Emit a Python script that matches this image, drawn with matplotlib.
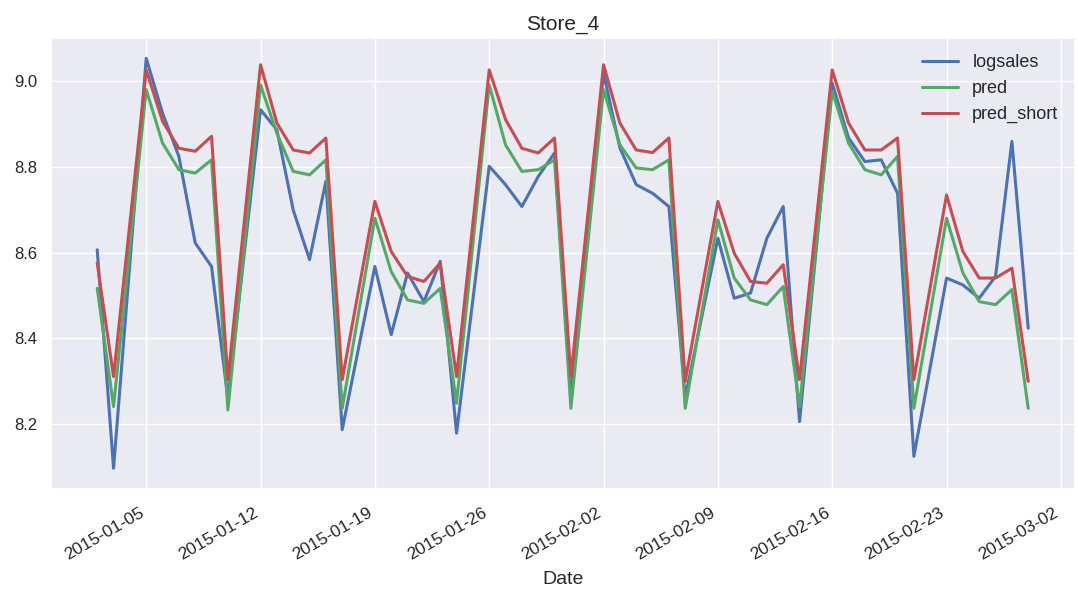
import matplotlib
matplotlib.use('Agg')
import matplotlib.pyplot as plt
import matplotlib.dates as mdates
import pandas as pd
import seaborn as sns

sns.set_theme(style='darkgrid')
plt.rcParams['font.family'] = ['Liberation Sans', 'DejaVu Sans']

# store 4, Jan 2 - Feb 28 2015, closed on Sundays
dates = pd.bdate_range('2015-01-02', '2015-02-28', freq='C', weekmask='Mon Tue Wed Thu Fri Sat')

logsales = [8.607, 8.097,
            9.054, 8.926, 8.825, 8.623, 8.568, 8.260,
            8.934, 8.887, 8.700, 8.584, 8.767, 8.187,
            8.568, 8.409, 8.553, 8.486, 8.580, 8.179,
            8.802, 8.759, 8.708, 8.778, 8.833, 8.260,
            9.019, 8.845, 8.759, 8.739, 8.708, 8.262,
            8.634, 8.494, 8.506, 8.634, 8.708, 8.206,
            8.996, 8.868, 8.813, 8.817, 8.739, 8.125,
            8.541, 8.525, 8.494, 8.545, 8.860, 8.424]

pred = [8.517, 8.241,
        8.981, 8.856, 8.794, 8.786, 8.817, 8.233,
        8.992, 8.879, 8.790, 8.782, 8.817, 8.237,
        8.681, 8.556, 8.490, 8.482, 8.517, 8.249,
        8.992, 8.852, 8.790, 8.794, 8.817, 8.237,
        8.981, 8.852, 8.798, 8.794, 8.817, 8.237,
        8.677, 8.541, 8.490, 8.479, 8.521, 8.240,
        8.977, 8.856, 8.794, 8.782, 8.825, 8.237,
        8.681, 8.553, 8.486, 8.479, 8.514, 8.237]

pred_short = [8.576, 8.311,
              9.027, 8.907, 8.844, 8.837, 8.872, 8.304,
              9.039, 8.903, 8.840, 8.833, 8.868, 8.304,
              8.720, 8.603, 8.545, 8.533, 8.576, 8.311,
              9.027, 8.911, 8.844, 8.833, 8.868, 8.311,
              9.039, 8.903, 8.840, 8.834, 8.868, 8.300,
              8.720, 8.599, 8.533, 8.529, 8.572, 8.304,
              9.027, 8.903, 8.840, 8.840, 8.868, 8.304,
              8.735, 8.603, 8.541, 8.541, 8.564, 8.300]

fig = plt.figure(figsize=(10.78, 5.91), dpi=100)
ax = fig.add_axes([0.047, 0.173, 0.95, 0.763])

ax.plot(dates, logsales, color='#4C72B0', lw=2.2, label='logsales')
ax.plot(dates, pred, color='#55A868', lw=2.2, label='pred')
ax.plot(dates, pred_short, color='#C44E52', lw=2.2, label='pred_short')

ax.xaxis.set_major_locator(mdates.WeekdayLocator(byweekday=mdates.MO))
ax.xaxis.set_major_formatter(mdates.DateFormatter('%Y-%m-%d'))
plt.setp(ax.get_xticklabels(), rotation=30, ha='right')
ax.tick_params(axis='x', labelsize=12.5, pad=6)
ax.tick_params(axis='y', labelsize=12)

ax.set_title('Store_4', fontsize=15)
ax.set_xlabel('Date', fontsize=14, labelpad=6)
ax.legend(loc='upper right', fontsize=13, frameon=False)

fig.savefig('out.png', dpi=100)
